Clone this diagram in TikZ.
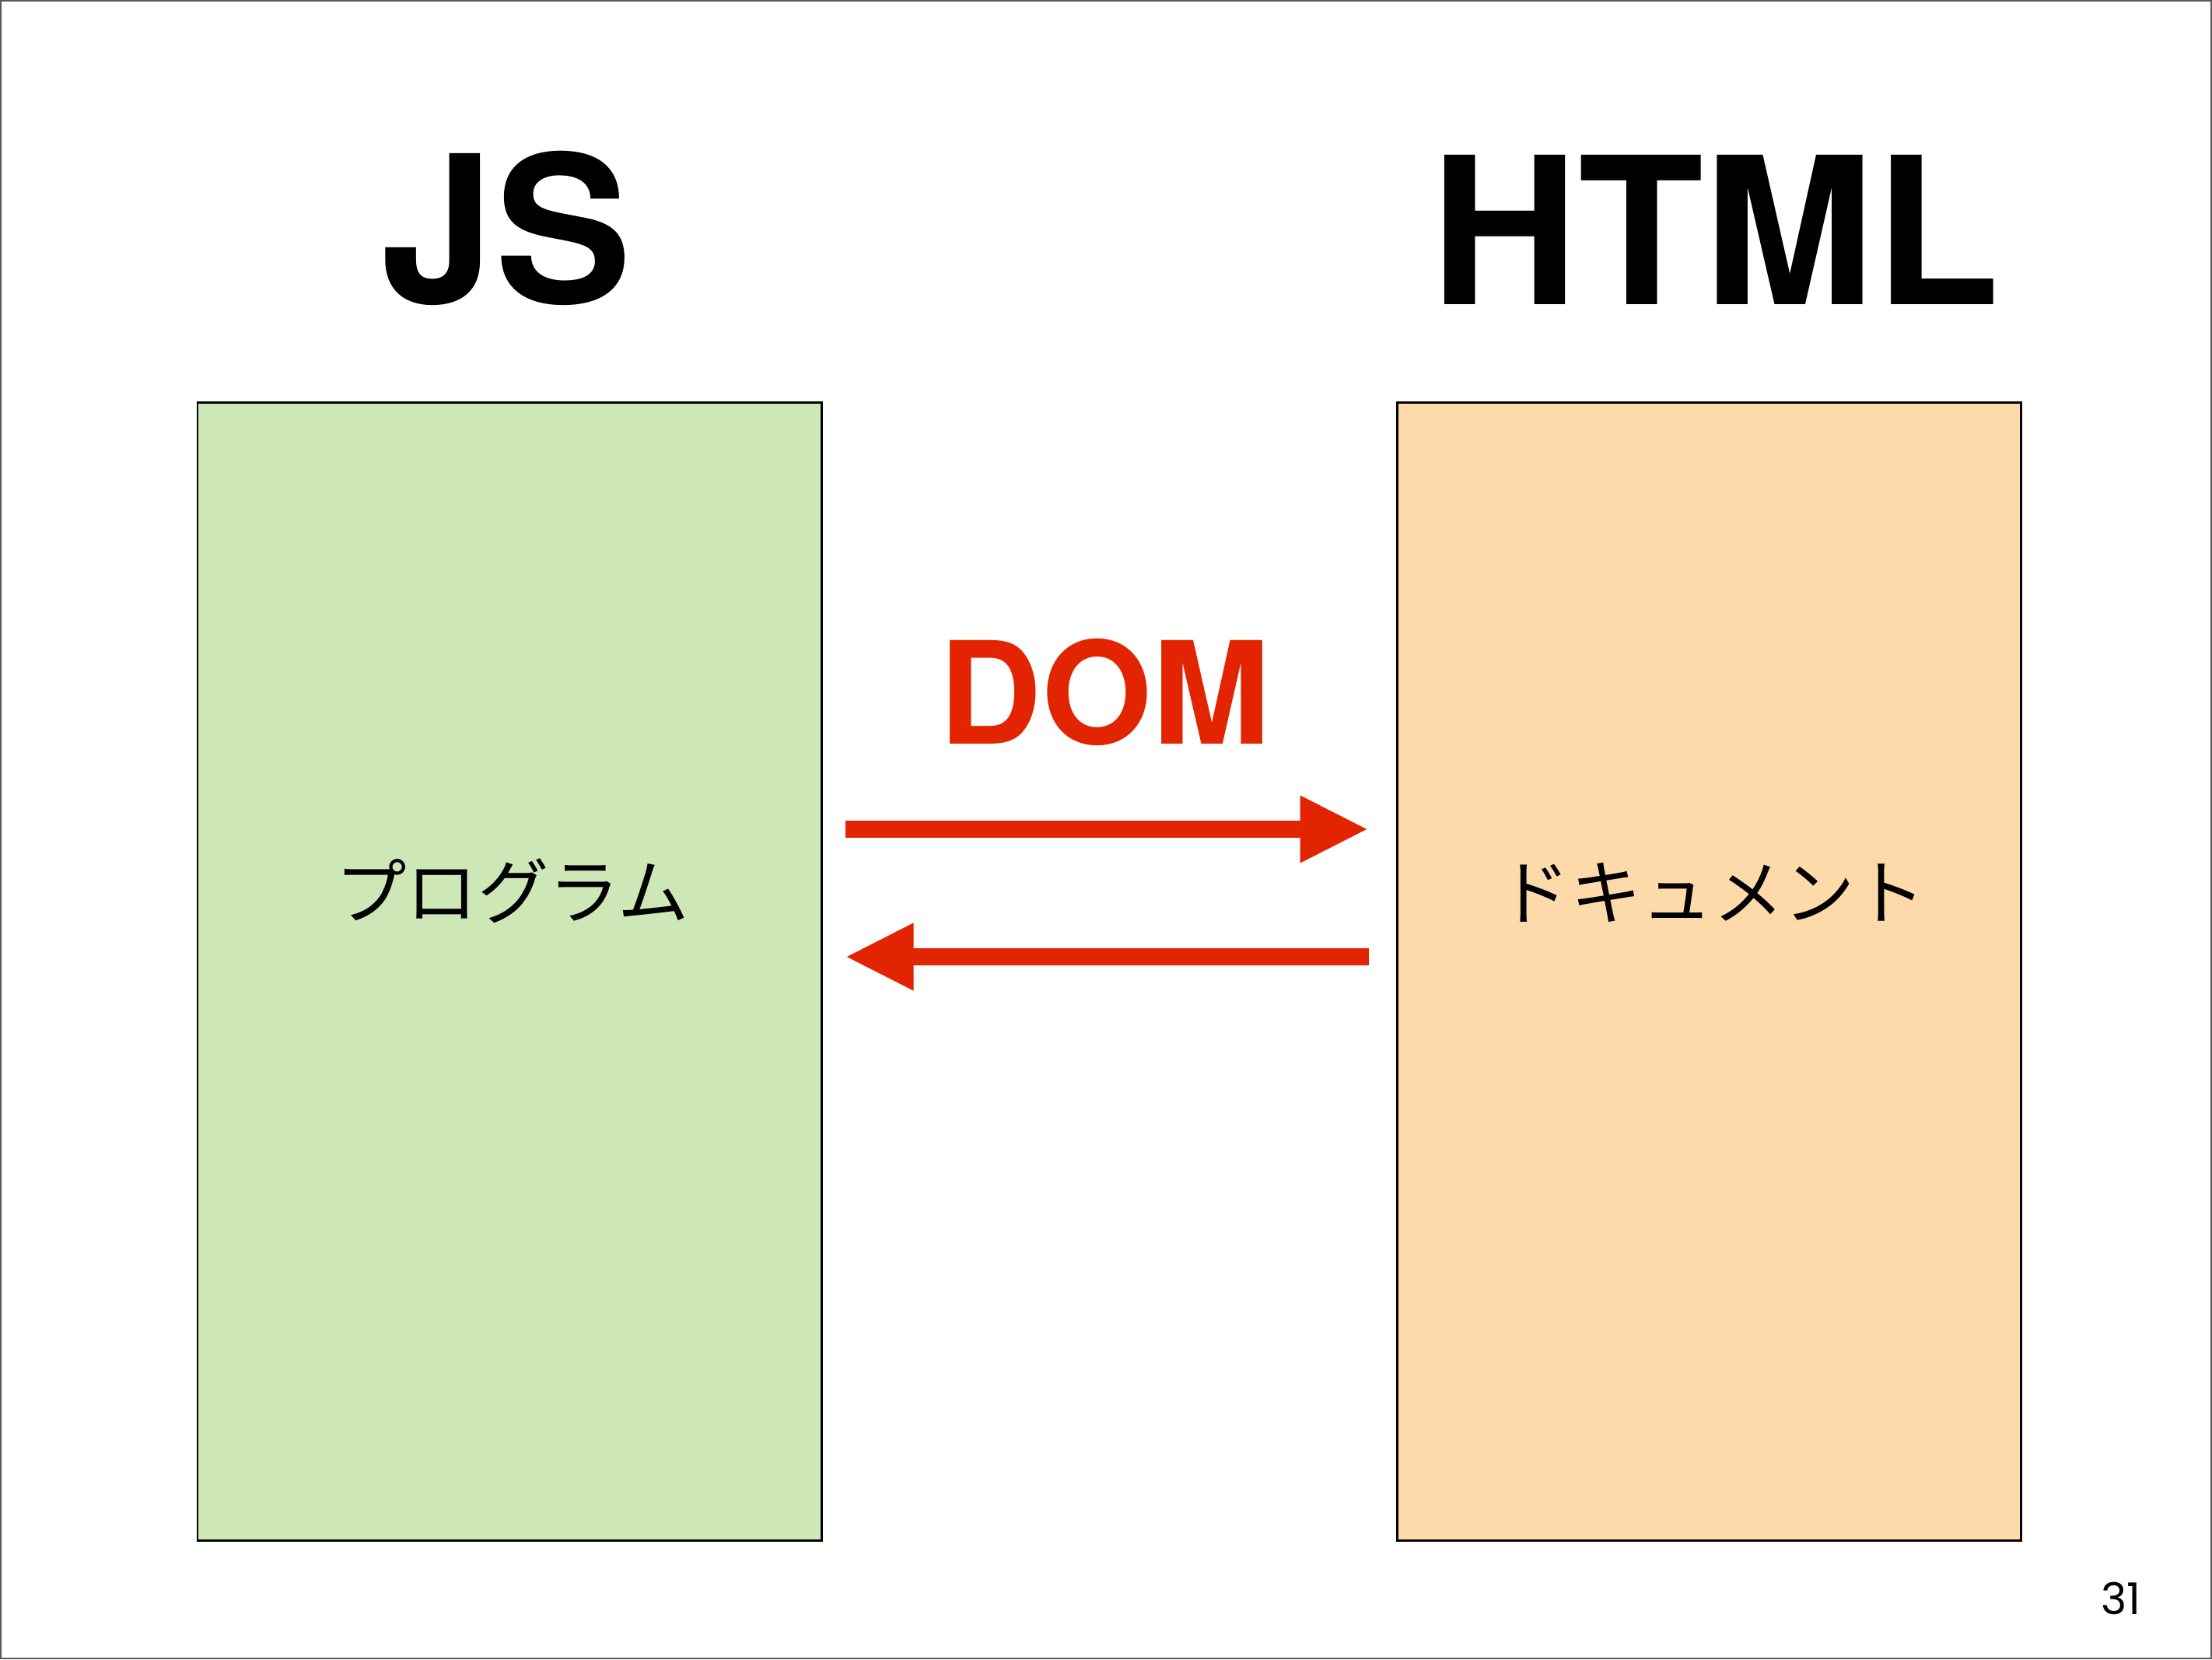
\documentclass[tikz,border=0pt]{standalone}
\usepackage{fontspec}
\usepackage[dvipsnames]{xcolor}
\setmainfont{TeX Gyre Heros}
\newfontfamily\cjk{Noto Sans CJK JP}
\newfontfamily\pagefont{Poppins}
\usetikzlibrary{positioning,arrows.meta}
\definecolor{progGreen}{HTML}{CDE8B6}
\definecolor{docOrange}{HTML}{FED9A9}
\definecolor{domRed}{HTML}{E22500}

\begin{document}
\begin{tikzpicture}[>={Triangle[length=8.8mm,width=8.0mm]},node distance=15.42cm,
    main box/.style={draw,line width=0.85pt,minimum width=8.02cm,minimum height=14.62cm,inner sep=0pt},
    title/.style={font=\bfseries\fontsize{75}{75}\selectfont,anchor=base,inner sep=0pt},
    kana/.style={font=\cjk\fontsize{26}{26}\selectfont,inner sep=0pt},
    dom arrow/.style={->,draw=domRed,line width=2.2mm}]
    \useasboundingbox (0,0) rectangle (28.44,21.33);
    \draw[line width=0.2mm,black!65] (0.01,0.01) rectangle (28.43,21.32);

    \node[main box,fill=progGreen] (prog) at (6.55,8.84) {};
    \node[main box,fill=docOrange] (doc) [right of=prog] {};

    \node[title] (js) at (6.51,17.43) {JS};
    \node[title] (html) at (22.055,17.41) {HTML};

    \node[kana] (progtext) at (6.585,9.88) {プログラム};
    \node[kana] (doctext) at (22.02,9.86) {ドキュメント};

    \node[title,font=\bfseries\fontsize{52}{52}\selectfont,text=domRed] (dom) at (14.205,11.76) {DOM};

    \draw[dom arrow,shorten <=2.9mm,shorten >=3.5mm] ([yshift=18.3mm]prog.east) -- ([yshift=18.3mm]doc.west);
    \draw[dom arrow,shorten <=3.5mm,shorten >=2.9mm] ([yshift=1.9mm]doc.west) -- ([yshift=1.9mm]prog.east);

    \node[font=\pagefont\fontsize{16}{16}\selectfont,anchor=base,inner sep=0pt] (page) at (27.27,0.58) {31};
\end{tikzpicture}
\end{document}
